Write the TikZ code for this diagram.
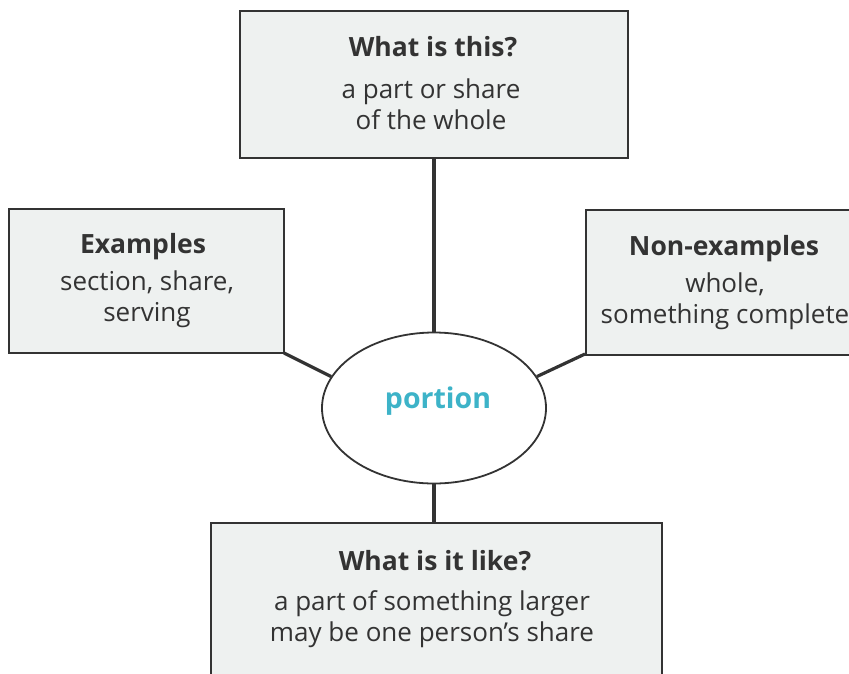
\documentclass[tikz,border=0pt]{standalone}
\usepackage{fontspec}
\setmainfont{Open Sans}
\usetikzlibrary{shapes.geometric}
\definecolor{boxfill}{HTML}{EEF1F0}
\definecolor{ink}{HTML}{333333}
\definecolor{portteal}{HTML}{3DB3C8}
\begin{document}
\begin{tikzpicture}[x=1pt,y=-1pt,
  infobox/.style={draw=ink,line width=1.8pt,fill=boxfill,inner sep=0pt},
  conn/.style={draw=ink,line width=3.2pt},
  txt/.style={text=ink,font=\fontsize{26}{31}\selectfont,align=center},
  ttl/.style={text=ink,font=\fontsize{26.5}{31}\selectfont\bfseries,align=center}]
\useasboundingbox (0,0) rectangle (849,673);
\clip (0,0) rectangle (849,673);
% boxes
\node[infobox,minimum width=388pt,minimum height=147pt] (top) at (434,84.5) {};
\node[infobox,minimum width=275pt,minimum height=144pt] (left) at (146.5,281) {};
\node[infobox,minimum width=280pt,minimum height=145pt,anchor=north west] (right) at (585,209) {};
\node[infobox,minimum width=451pt,minimum height=170pt,anchor=north west] (bottom) at (210,522) {};
% connectors
\coordinate (lc) at (284,353);
\coordinate (rc) at (585,354);
\node[draw=ink,line width=1.8pt,fill=white,ellipse,minimum width=224pt,minimum height=151pt,inner sep=0pt] (por) at (434,408) {};
\draw[conn] (top.south) -- (por.north);
\draw[conn] (por.south) -- (por.south |- bottom.north);
\draw[conn] (lc) -- (por.163);
\draw[conn] (rc) -- (por.17);
% texts
\node[ttl] (t1) at (433,47) {What is this?};
\node[txt] (t2) at (431,104) {a part or share\\of the whole};
\node[ttl] (l1) at (143,247) {Examples};
\node[txt] (l2) at (147,299) {section, share,\\serving};
\node[ttl] (r1) at (724,249) {Non-examples};
\node[txt] (r2) at (725,301) {whole,\\something complete};
\node[text=portteal,font=\fontsize{28.5}{34}\selectfont\bfseries] (p) at (438,401) {portion};
\node[ttl] (b1) at (435,561) {What is it like?};
\node[txt] (b2) at (432,619) {a part of something larger\\may be one person’s share};
\end{tikzpicture}
\end{document}
